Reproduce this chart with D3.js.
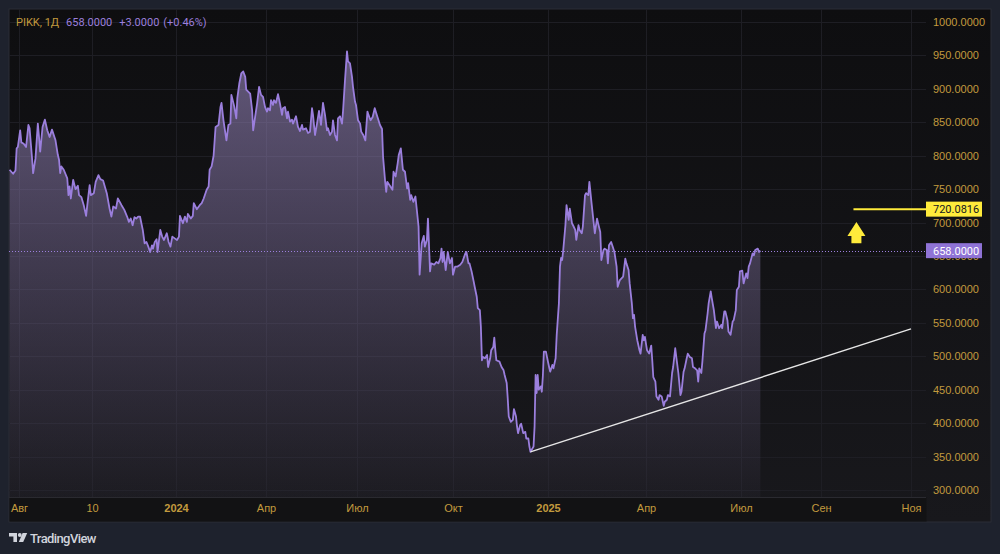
<!DOCTYPE html>
<html>
<head>
<meta charset="utf-8">
<script src="https://d3js.org/d3.v7.min.js"></script>
<style>
	html, body { margin: 0; padding: 0; background: #1e222d; }
	svg { display: block; font-family: Roboto, "Noto Sans", sans-serif; }
</style>
</head>
<body>
<div id="graph"></div>
<script>
/*
=====================================================
=========	DATA	=========
=====================================================
*/

var ticker = "PIKK, 1Д",
	lastPrice = 658,
	lastChange = 3,
	lastChangePct = 0.46;

// daily closes
var closes = [
	["2023-07-24",779],["2023-07-27",773],["2023-07-29",778],["2023-07-30",811],["2023-07-31",813],["2023-08-02",838],["2023-08-03",820],["2023-08-05",818],["2023-08-07",813],["2023-08-09",846],["2023-08-10",841],["2023-08-12",798],["2023-08-13",774],["2023-08-15",796],["2023-08-17",848],["2023-08-18",828],["2023-08-19",806],["2023-08-21",843],["2023-08-23",854],["2023-08-25",838],["2023-08-27",828],["2023-08-29",839],["2023-09-01",823],["2023-09-03",801],["2023-09-04",794],["2023-09-05",774],["2023-09-06",784],["2023-09-08",779],["2023-09-11",766],["2023-09-12",741],["2023-09-13",754],["2023-09-14",736],["2023-09-16",764],["2023-09-18",750],["2023-09-20",755],["2023-09-21",741],["2023-09-23",738],["2023-09-25",726],["2023-09-27",710],["2023-09-28",726],["2023-09-30",756],["2023-10-01",741],
	["2023-10-04",744],["2023-10-06",761],["2023-10-09",771],["2023-10-11",765],["2023-10-14",763],["2023-10-18",744],["2023-10-21",721],["2023-10-23",709],["2023-10-25",724],["2023-10-28",721],["2023-10-30",736],["2023-11-03",726],["2023-11-06",719],["2023-11-09",709],["2023-11-11",701],["2023-11-13",706],["2023-11-15",696],["2023-11-17",708],["2023-11-19",706],["2023-11-21",709],["2023-11-23",709],["2023-11-26",689],["2023-11-28",669],["2023-11-30",671],["2023-12-02",664],["2023-12-04",656],["2023-12-06",666],["2023-12-07",661],["2023-12-09",671],["2023-12-11",675],["2023-12-12",656],["2023-12-15",689],["2023-12-17",679],["2023-12-19",674],["2023-12-22",684],["2023-12-24",671],["2023-12-26",664],["2023-12-28",679],["2023-12-31",676],
	["2024-01-02",674],["2024-01-04",679],["2024-01-05",710],["2024-01-08",699],["2024-01-10",709],["2024-01-12",701],["2024-01-13",713],["2024-01-16",706],["2024-01-18",710],["2024-01-19",729],["2024-01-22",720],["2024-01-25",726],["2024-01-27",729],["2024-01-29",736],["2024-02-01",749],["2024-02-03",754],["2024-02-04",779],["2024-02-06",784],["2024-02-08",800],["2024-02-10",843],["2024-02-13",846],["2024-02-15",873],["2024-02-16",879],["2024-02-18",853],["2024-02-21",823],["2024-02-23",846],["2024-02-25",848],["2024-02-26",891],["2024-02-29",873],["2024-03-02",856],["2024-03-03",886],["2024-03-05",908],["2024-03-07",923],["2024-03-09",926],["2024-03-11",918],["2024-03-12",899],["2024-03-14",896],["2024-03-16",893],["2024-03-18",868],["2024-03-19",838],["2024-03-21",858],["2024-03-23",878],["2024-03-25",903],["2024-03-27",891],["2024-03-29",888],["2024-03-31",873],
	["2024-04-02",866],["2024-04-03",871],["2024-04-05",868],["2024-04-06",883],["2024-04-08",876],["2024-04-09",883],["2024-04-11",879],["2024-04-13",892],["2024-04-15",878],["2024-04-17",861],["2024-04-18",871],["2024-04-20",873],["2024-04-22",856],["2024-04-23",866],["2024-04-25",851],["2024-04-27",854],["2024-04-28",848],["2024-05-01",859],["2024-05-03",843],["2024-05-05",837],["2024-05-07",846],["2024-05-08",839],["2024-05-11",841],["2024-05-13",834],["2024-05-15",836],["2024-05-17",871],["2024-05-18",861],["2024-05-20",831],["2024-05-22",848],["2024-05-24",867],["2024-05-26",846],["2024-05-28",879],["2024-05-30",861],["2024-06-01",838],["2024-06-02",841],["2024-06-04",831],["2024-06-06",836],["2024-06-07",853],["2024-06-09",831],["2024-06-11",823],["2024-06-12",856],["2024-06-14",859],["2024-06-16",848],["2024-06-17",866],["2024-06-19",913],["2024-06-21",956],["2024-06-22",941],["2024-06-24",938],["2024-06-26",918],["2024-06-27",903],["2024-06-29",881],["2024-06-30",876],
	["2024-07-02",853],["2024-07-04",848],["2024-07-05",836],["2024-07-07",831],["2024-07-09",823],["2024-07-11",866],["2024-07-12",861],["2024-07-14",853],["2024-07-16",858],["2024-07-18",871],["2024-07-20",861],["2024-07-21",856],["2024-07-23",846],["2024-07-25",840],["2024-07-26",798],["2024-07-28",761],["2024-07-29",746],["2024-07-30",761],["2024-08-02",754],["2024-08-04",749],["2024-08-05",776],["2024-08-07",769],["2024-08-09",789],["2024-08-10",801],["2024-08-12",811],["2024-08-14",779],["2024-08-16",776],["2024-08-18",751],["2024-08-19",759],["2024-08-21",734],["2024-08-22",741],["2024-08-24",731],["2024-08-26",739],["2024-08-27",724],["2024-08-29",694],["2024-08-30",622],["2024-09-01",669],["2024-09-03",680],["2024-09-04",664],["2024-09-06",674],["2024-09-07",706],["2024-09-09",627],["2024-09-10",639],["2024-09-13",637],["2024-09-15",641],["2024-09-17",639],["2024-09-19",647],["2024-09-20",661],["2024-09-21",641],["2024-09-22",656],["2024-09-24",629],["2024-09-26",656],["2024-09-28",639],["2024-09-30",647],
	["2024-10-01",622],["2024-10-03",634],["2024-10-05",634],["2024-10-08",637],["2024-10-10",641],["2024-10-13",654],["2024-10-14",656],["2024-10-16",639],["2024-10-17",639],["2024-10-19",627],["2024-10-21",612],["2024-10-22",604],["2024-10-24",589],["2024-10-25",572],["2024-10-27",569],["2024-10-28",544],["2024-10-29",494],["2024-10-30",499],["2024-11-01",497],["2024-11-03",502],["2024-11-04",484],["2024-11-06",497],["2024-11-07",509],["2024-11-09",514],["2024-11-10",528],["2024-11-11",509],["2024-11-12",494],["2024-11-15",492],["2024-11-17",484],["2024-11-19",479],["2024-11-20",472],["2024-11-22",460],["2024-11-23",437],["2024-11-24",410],["2024-11-26",402],["2024-11-28",405],["2024-11-29",421],["2024-12-01",410],["2024-12-02",395],["2024-12-03",385],["2024-12-05",397],["2024-12-06",399],["2024-12-08",385],["2024-12-10",387],["2024-12-11",377],["2024-12-13",377],["2024-12-14",365],["2024-12-15",357],["2024-12-18",365],["2024-12-19",395],["2024-12-20",472],["2024-12-21",445],["2024-12-22",472],["2024-12-23",450],["2024-12-25",455],["2024-12-26",447],["2024-12-27",470],["2024-12-28",507],["2024-12-30",507],["2024-12-31",499],
	["2025-01-02",484],["2025-01-03",477],["2025-01-05",487],["2025-01-06",482],["2025-01-08",497],["2025-01-09",532],["2025-01-11",579],["2025-01-12",634],["2025-01-13",647],["2025-01-14",644],["2025-01-15",659],["2025-01-17",696],["2025-01-18",726],["2025-01-20",704],["2025-01-21",721],["2025-01-23",699],["2025-01-24",696],["2025-01-26",689],["2025-01-27",674],["2025-01-29",696],["2025-01-30",689],["2025-02-01",684],["2025-02-02",694],["2025-02-04",741],["2025-02-05",744],["2025-02-07",741],["2025-02-08",761],["2025-02-10",729],["2025-02-12",699],["2025-02-13",684],["2025-02-15",706],["2025-02-16",699],["2025-02-18",686],["2025-02-19",644],["2025-02-21",659],["2025-02-22",661],["2025-02-24",659],["2025-02-25",639],["2025-02-26",666],["2025-02-28",671],["2025-03-01",666],["2025-03-03",656],["2025-03-05",634],["2025-03-06",604],["2025-03-08",614],["2025-03-11",619],["2025-03-13",646],["2025-03-14",639],["2025-03-16",629],["2025-03-17",609],["2025-03-19",579],["2025-03-20",557],["2025-03-21",562],["2025-03-22",544],["2025-03-24",524],["2025-03-26",509],["2025-03-27",504],["2025-03-29",532],["2025-03-30",524],["2025-03-31",529],
	["2025-04-02",509],["2025-04-04",504],["2025-04-06",516],["2025-04-07",494],["2025-04-08",469],["2025-04-10",462],["2025-04-11",440],["2025-04-13",435],["2025-04-14",442],["2025-04-16",440],["2025-04-18",426],["2025-04-19",432],["2025-04-21",435],["2025-04-22",442],["2025-04-24",440],["2025-04-26",475],["2025-04-27",484],["2025-04-29",512],["2025-04-30",499],["2025-05-02",475],["2025-05-04",442],["2025-05-05",447],["2025-05-07",477],["2025-05-08",482],["2025-05-10",497],["2025-05-11",504],["2025-05-13",499],["2025-05-15",497],["2025-05-16",484],["2025-05-18",482],["2025-05-20",479],["2025-05-21",462],["2025-05-22",482],["2025-05-24",475],["2025-05-25",492],["2025-05-27",534],["2025-05-28",539],["2025-05-30",564],["2025-05-31",579],["2025-06-02",597],["2025-06-03",587],["2025-06-05",569],["2025-06-07",542],["2025-06-08",552],["2025-06-10",542],["2025-06-12",547],["2025-06-13",542],["2025-06-15",567],["2025-06-16",567],["2025-06-18",554],["2025-06-19",537],["2025-06-21",532],["2025-06-23",552],["2025-06-24",554],["2025-06-26",569],["2025-06-27",599],["2025-06-29",604],["2025-06-30",627],
	["2025-07-02",628],["2025-07-03",609],["2025-07-05",624],["2025-07-06",617],["2025-07-07",634],["2025-07-08",639],["2025-07-10",654],["2025-07-11",651],["2025-07-12",659],["2025-07-14",661],["2025-07-15",656],["2025-07-16",658]
];

var tickDates = ["2023-08-01","2023-10-02","2024-01-01","2024-04-01","2024-07-01","2024-10-01","2025-01-01","2025-04-01","2025-07-01","2025-09-01","2025-11-01"];
var tickLabels = ["Авг","10","2024","Апр","Июл","Окт","2025","Апр","Июл","Сен","Ноя"];
var priceTicks = [300,350,400,450,500,550,600,650,700,750,800,850,900,950,1000];

// support trendline and target
var trendDates = ["2024-12-15","2025-11-01"];
var trendValues = [357, 541];
var targetDate = "2025-09-23",
	targetPrice = 720.0816;
var arrowDate = "2025-09-25",
	arrowValues = [669, 680, 701];	// tail, head base, tip

/*
=====================================================
=========	LAYOUT	=========
=====================================================
*/

var	SVGwidth = 1000,
	SVGheight = 554,
	panel = {left: 9, top: 9, right: 991, bottom: 522},
	margin = {top: 9, left: 9},
	width = 917,
	height = 488;

var parse = d3.timeParse("%Y-%m-%d");

var series = closes.map(function(d){ return {date: parse(d[0]), value: d[1]}; });

var svg = d3.select('div#graph')
				.append('svg')
				.attr('width', SVGwidth)
				.attr('height', SVGheight);

var defs = svg.append("defs");

var bgGrad = defs.append("linearGradient")
	.attr("id", "bgGrad")
	.attr("x1", 0).attr("y1", 0).attr("x2", 0).attr("y2", 1);
bgGrad.append("stop").attr("offset", "0%").attr("stop-color", "#0e0e10");
bgGrad.append("stop").attr("offset", "100%").attr("stop-color", "#18181c");

// panel
svg.append("rect")
	.attr("x", panel.left)
	.attr("y", panel.top)
	.attr("width", panel.right - panel.left)
	.attr("height", panel.bottom - panel.top)
	.attr("fill", "url(#bgGrad)")
	.attr("stroke", "#2a2d36")
	.attr("stroke-width", 1);

svg.append("rect")
	.attr("x", panel.left + 0.5)
	.attr("y", margin.top + height)
	.attr("width", width)
	.attr("height", panel.bottom - margin.top - height - 0.5)
	.attr("fill", "#121214");

svg.append("line")
	.attr("x1", panel.left).attr("x2", panel.left + width)
	.attr("y1", margin.top + height + 0.5).attr("y2", margin.top + height + 0.5)
	.attr("stroke", "#2a2a30");

var g = svg.append("g").attr("transform", "translate(" + margin.left + "," + margin.top + ")");

// x follows TradingView's uneven bar spacing, so it is calibrated on the tick marks
var x = d3.scaleTime()
	.domain(tickDates.map(parse))
	.range([10, 83, 167, 257, 348, 444, 539, 637, 732, 812, 902]);

var y = d3.scaleLinear()
	.domain([300, 1000])
	.range([481, 13]);

var gold = "#c29a3e",
	purple = "#9b7fdd";

/*
=====================================================
=========	GRID	=========
=====================================================
*/

g.selectAll("line.hgrid")
	.data(priceTicks)
	.enter()
	.append("line")
	.attr("class", "hgrid")
	.attr("x1", 0).attr("x2", width)
	.attr("y1", function(d){ return Math.round(y(d)) + 0.5; })
	.attr("y2", function(d){ return Math.round(y(d)) + 0.5; })
	.attr("stroke", "#1e1e24");

g.selectAll("line.vgrid")
	.data(tickDates)
	.enter()
	.append("line")
	.attr("class", "vgrid")
	.attr("y1", 0).attr("y2", height)
	.attr("x1", function(d){ return Math.round(x(parse(d))) + 0.5; })
	.attr("x2", function(d){ return Math.round(x(parse(d))) + 0.5; })
	.attr("stroke", "#1e1e24");

/*
=====================================================
=========	AREA + LINE	=========
=====================================================
*/

var fillGrad = defs.append("linearGradient")
	.attr("id", "fillGrad")
	.attr("gradientUnits", "userSpaceOnUse")
	.attr("x1", 0).attr("x2", 0)
	.attr("y1", y(d3.max(series, function(d){ return d.value; })))
	.attr("y2", height);
fillGrad.append("stop").attr("offset", "0%").attr("stop-color", "#9a88c0").attr("stop-opacity", 0.6);
fillGrad.append("stop").attr("offset", "100%").attr("stop-color", "#9a88c0").attr("stop-opacity", 0.04);

var area = d3.area()
	.x(function(d) { return x(d.date); })
	.y0(height)
	.y1(function(d) { return y(d.value); });

var line = d3.line()
	.x(function(d) { return x(d.date); })
	.y(function(d) { return y(d.value); });

g.append("path")
	.datum(series)
	.attr("fill", "url(#fillGrad)")
	.attr("d", area);

// last price dotted line
g.append("line")
	.attr("x1", 0).attr("x2", width)
	.attr("y1", Math.round(y(lastPrice)) + 0.5)
	.attr("y2", Math.round(y(lastPrice)) + 0.5)
	.attr("stroke", purple)
	.attr("stroke-dasharray", "1,2");

g.append("path")
	.datum(series)
	.attr("fill", "none")
	.attr("stroke", purple)
	.attr("stroke-width", 1.8)
	.attr("stroke-linejoin", "round")
	.attr("d", line);

// trendline
g.append("line")
	.attr("x1", x(parse(trendDates[0]))).attr("y1", y(trendValues[0]))
	.attr("x2", x(parse(trendDates[1]))).attr("y2", y(trendValues[1]))
	.attr("stroke", "#e6e6e6")
	.attr("stroke-width", 1.4);

// target ray + arrow
g.append("line")
	.attr("x1", x(parse(targetDate))).attr("x2", width)
	.attr("y1", y(targetPrice)).attr("y2", y(targetPrice))
	.attr("stroke", "#ffeb3b")
	.attr("stroke-width", 2);

var ax = x(parse(arrowDate));
g.append("path")
	.attr("d", "M" + ax + "," + y(arrowValues[2]) +
		"L" + (ax + 9) + "," + y(arrowValues[1]) +
		"L" + (ax + 5) + "," + y(arrowValues[1]) +
		"L" + (ax + 5) + "," + y(arrowValues[0]) +
		"L" + (ax - 5) + "," + y(arrowValues[0]) +
		"L" + (ax - 5) + "," + y(arrowValues[1]) +
		"L" + (ax - 9) + "," + y(arrowValues[1]) + "Z")
	.attr("fill", "#ffeb3b");

/*
=====================================================
=========	AXES	=========
=====================================================
*/

var yAxis = d3.axisRight(y)
	.tickValues(priceTicks)
	.tickSize(0)
	.tickPadding(0)
	.tickFormat(d3.format(".4f"));

var yAxisG = g.append("g")
	.attr("transform", "translate(" + (width + 7) + ",0)")
	.call(yAxis);
yAxisG.select(".domain").remove();
yAxisG.selectAll("text")
	.attr("fill", gold)
	.style("font-size", "11px");

var xAxis = d3.axisBottom(x)
	.tickValues(tickDates.map(parse))
	.tickSize(0)
	.tickPadding(0)
	.tickFormat(function(d, i){ return tickLabels[i]; });

var xAxisG = g.append("g")
	.attr("transform", "translate(0," + (height + 7) + ")")
	.call(xAxis);
xAxisG.select(".domain").remove();
xAxisG.selectAll("text")
	.attr("fill", gold)
	.style("font-size", "11px")
	.style("font-weight", function(d, i){ return /^\d{4}$/.test(tickLabels[i]) ? 700 : 500; });

// price labels on the scale
function priceTag(value, bg, fg, text) {
	var tag = g.append("g").attr("transform", "translate(" + (width) + "," + y(value) + ")");
	tag.append("rect")
		.attr("x", 0).attr("y", -7.5)
		.attr("width", 56).attr("height", 15)
		.attr("fill", bg);
	tag.append("text")
		.attr("x", 7).attr("dy", "0.35em")
		.attr("fill", fg)
		.style("font-size", "11px")
		.text(text);
}
priceTag(targetPrice, "#ffeb3b", "#131722", d3.format(".4f")(targetPrice));
priceTag(lastPrice, "#8f73d6", "#ffffff", d3.format(".4f")(lastPrice));

/*
=====================================================
=========	TITLE + LOGO	=========
=====================================================
*/

var title = svg.append("text")
	.attr("x", 16)
	.attr("y", 22)
	.attr("dy", "0.35em")
	.style("font-size", "11px");
title.append("tspan").attr("fill", gold).text(ticker);
title.append("tspan").attr("dx", 7).attr("fill", purple).text(d3.format(".4f")(lastPrice));
title.append("tspan").attr("dx", 7).attr("fill", purple).text("+" + d3.format(".4f")(lastChange));
title.append("tspan").attr("dx", 4).attr("fill", purple).text("(+" + lastChangePct.toFixed(2) + "%)");

var logo = svg.append("g").attr("fill", "#d1d4dc");
logo.append("path").attr("d", "M9,533h8v9h-3.6v-5.6H9z");
logo.append("circle").attr("cx", 19.8).attr("cy", 535).attr("r", 1.9);
logo.append("path").attr("d", "M22.6,533h4.6l-4,9h-4.4z");
logo.append("text")
	.attr("x", 30)
	.attr("y", 538)
	.attr("dy", "0.35em")
	.style("font-size", "13px")
	.style("font-weight", 500)
	.style("letter-spacing", "-0.6px")
	.text("TradingView");
</script>
</body>
</html>
